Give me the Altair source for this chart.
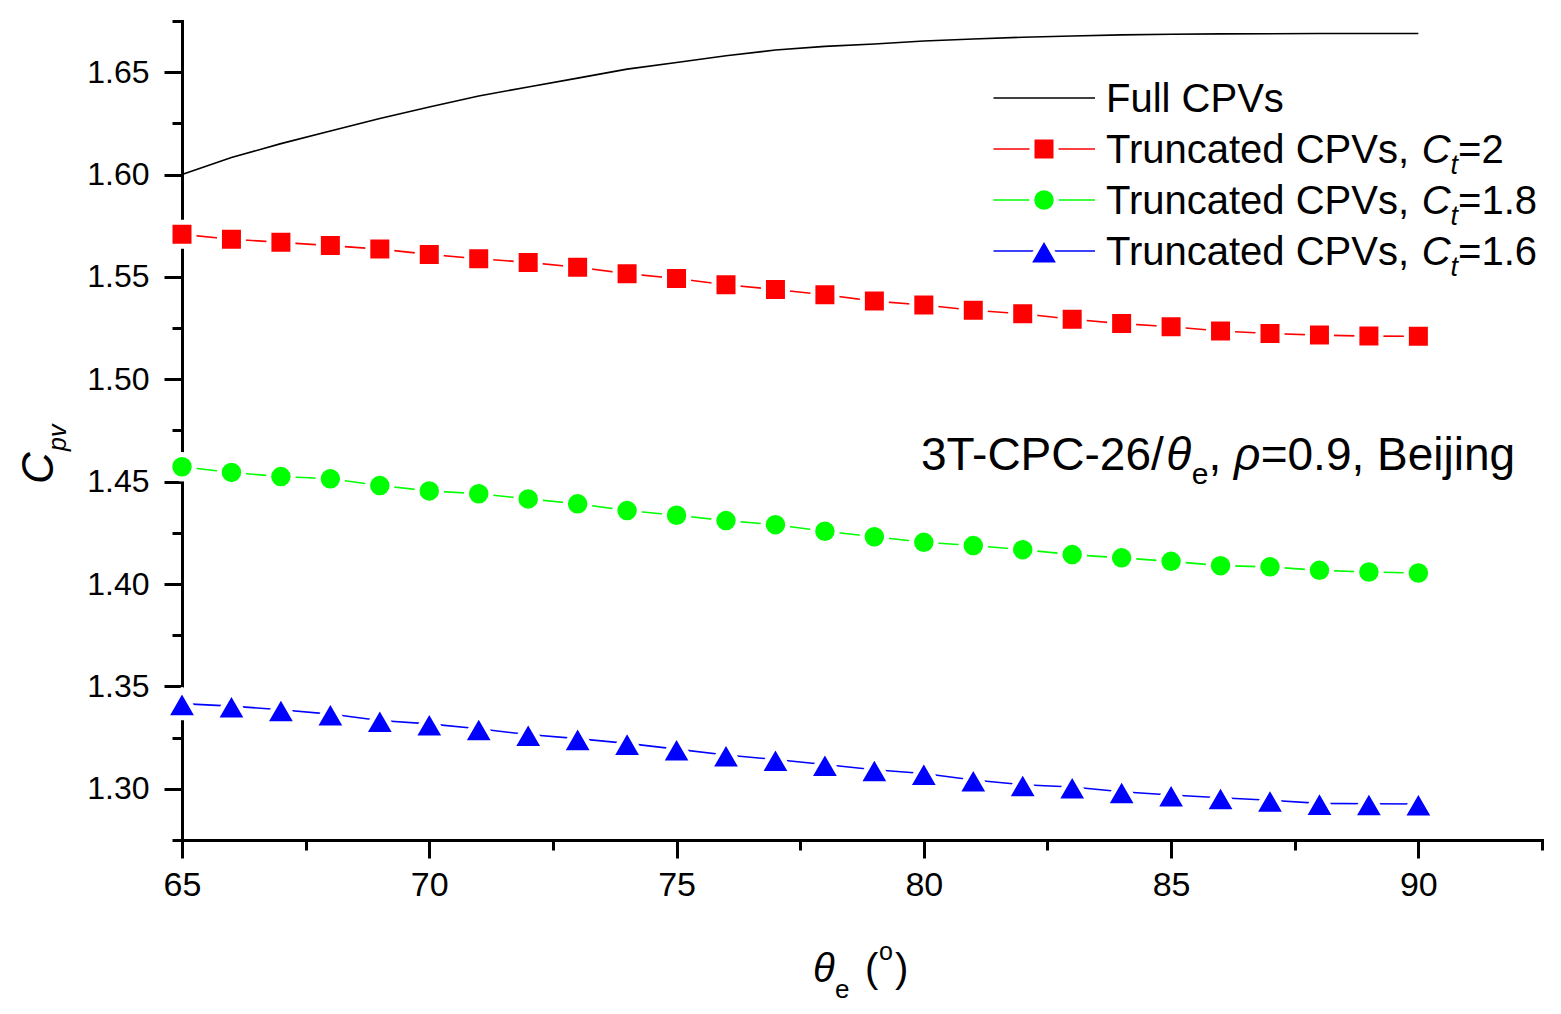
import altair as alt
import pandas as pd

# ---------------- data ----------------
theta_e = [65, 66, 67, 68, 69, 70, 71, 72, 73, 74, 75, 76, 77,
           78, 79, 80, 81, 82, 83, 84, 85, 86, 87, 88, 89, 90]
full_cpv = [1.6000, 1.6083, 1.6151, 1.6213, 1.6274, 1.6330, 1.6384, 1.6428, 1.6471,
            1.6515, 1.6547, 1.6580, 1.6608, 1.6626, 1.6638, 1.6652, 1.6662, 1.6671,
            1.6677, 1.6682, 1.6685, 1.6687, 1.6688, 1.6689, 1.6689, 1.6689]
trunc_ct2 = [1.5708, 1.5684, 1.5669, 1.5653, 1.5636, 1.5610, 1.5589, 1.5571, 1.5547,
             1.5516, 1.5492, 1.5462, 1.5439, 1.5413, 1.5382, 1.5363, 1.5337, 1.5320,
             1.5293, 1.5272, 1.5257, 1.5236, 1.5224, 1.5216, 1.5211, 1.5210]
trunc_ct18 = [1.4573, 1.4545, 1.4525, 1.4514, 1.4481, 1.4455, 1.4441, 1.4416, 1.4392,
              1.4359, 1.4336, 1.4310, 1.4290, 1.4258, 1.4231, 1.4204, 1.4188, 1.4168,
              1.4144, 1.4128, 1.4111, 1.4090, 1.4084, 1.4067, 1.4059, 1.4054]
trunc_ct16 = [1.3416, 1.3404, 1.3386, 1.3365, 1.3334, 1.3317, 1.3293, 1.3265, 1.3245,
              1.3222, 1.3194, 1.3165, 1.3143, 1.3119, 1.3093, 1.3075, 1.3043, 1.3020,
              1.3009, 1.2986, 1.2970, 1.2956, 1.2944, 1.2929, 1.2927, 1.2926]

legend_first = "Full CPVs"
legend_prefix = "Truncated CPVs, "
ct_values = ["2", "1.8", "1.6"]
annotation_parts = ["3T-CPC-26/", "\u03b8", "e", ", ", "\u03c1", "=0.9, Beijing"]

x_ticks = [65, 67.5, 70, 72.5, 75, 77.5, 80, 82.5, 85, 87.5, 90, 92.5]
y_ticks = [1.275, 1.3, 1.325, 1.35, 1.375, 1.4, 1.425, 1.45, 1.475, 1.5,
           1.525, 1.55, 1.575, 1.6, 1.625, 1.65, 1.675]

# ---------------- layout helpers ----------------
FONT = "Liberation Sans"
OX, OY = 182, 21          # absolute page position of the plot origin
W, H = 1360, 819

AW = {' ': 278, ',': 278, '.': 278, '-': 333, '/': 278, '=': 584, '(': 333, ')': 333,
      'B': 667, 'C': 722, 'P': 667, 'T': 611, 'V': 667, 'F': 611,
      'a': 556, 'c': 500, 'd': 556, 'e': 556, 'g': 556, 'i': 222, 'j': 222, 'l': 222,
      'n': 556, 'o': 556, 'p': 556, 'r': 333, 's': 500, 't': 278, 'u': 556, 'v': 500,
      '\u03b8': 556, '\u03c1': 577}
for d in "0123456789":
    AW[d] = 556


def tw(s, size):
    return sum(AW.get(c, 556) for c in s) * size / 1000.0


one = pd.DataFrame({"k": [0]})


def txt(s, x, y, size, italic=False, angle=0):
    return alt.Chart(one).mark_text(
        text=s, font=FONT, fontSize=size, fontStyle="italic" if italic else "normal",
        align="left", baseline="alphabetic", angle=angle, color="black"
    ).encode(x=alt.value(x - OX), y=alt.value(y - OY))


# ---------------- scales / axes ----------------
X = alt.X("theta:Q",
          scale=alt.Scale(domain=[65, 92.5], nice=False, zero=False),
          axis=alt.Axis(values=x_ticks, title=None, grid=False,
                        labelExpr="datum.value % 5 === 0 ? format(datum.value, 'd') : ''",
                        tickSize={"condition": {"test": "datum.value % 5 === 0", "value": 18}, "value": 10},
                        labelFontSize=34, labelPadding=10, labelFlush=False,
                        labelOverlap=False, labelBound=False))
Y = alt.Y("cpv:Q",
          scale=alt.Scale(domain=[1.275, 1.675], nice=False, zero=False),
          axis=alt.Axis(values=y_ticks, title=None, grid=False,
                        labelExpr="round(datum.value*1000) % 50 === 0 ? format(datum.value, '.2f') : ''",
                        tickSize={"condition": {"test": "round(datum.value*1000) % 50 === 0", "value": 18}, "value": 10},
                        labelFontSize=32, labelPadding=15, labelFlush=False,
                        labelOverlap=False, labelBound=False))


def frame(vals):
    return pd.DataFrame({"theta": theta_e, "cpv": vals})


RED, GREEN, BLUE = "#ff0000", "#00ff00", "#0000ff"
HALO = 5
specs = [
    (trunc_ct2, RED, "square", 576),
    (trunc_ct18, GREEN, "circle", 600),
    (trunc_ct16, BLUE, "triangle-up", 1050),
]

layers = [alt.Chart(frame(full_cpv)).mark_line(color="black", strokeWidth=1.6).encode(x=X, y=Y)]
for vals, col, shp, sz in specs:
    layers.append(alt.Chart(frame(vals)).mark_line(color=col, strokeWidth=1.6).encode(x=X, y=Y))
for vals, col, shp, sz in specs:
    layers.append(alt.Chart(frame(vals)).mark_point(
        shape=shp, size=sz, filled=True, fill=col, stroke="white", strokeWidth=HALO,
        strokeJoin="round", opacity=1, fillOpacity=1, strokeOpacity=1
    ).encode(x=X, y=Y))

# ---------------- legend (drawn by hand) ----------------
row_y = [98, 149, 200, 251]
LX1, LX2, LM = 993.5, 1095, 1044
LT = 1106
LF, LSUB = 40, 27
layers.append(alt.Chart(one).mark_rule(color="black", strokeWidth=1.6).encode(
    x=alt.value(LX1 - OX), x2=alt.value(LX2 - OX), y=alt.value(row_y[0] - OY)))
layers.append(txt(legend_first, LT, row_y[0] + 14, LF))
for i, (vals, col, shp, sz) in enumerate(specs):
    yc = row_y[i + 1]
    layers.append(alt.Chart(one).mark_rule(color=col, strokeWidth=1.6).encode(
        x=alt.value(LX1 - OX), x2=alt.value(LX2 - OX), y=alt.value(yc - OY)))
    layers.append(alt.Chart(one).mark_point(
        shape=shp, size=sz, filled=True, fill=col, stroke="white", strokeWidth=HALO,
        strokeJoin="round", opacity=1, fillOpacity=1, strokeOpacity=1
    ).encode(x=alt.value(LM - OX), y=alt.value(yc - OY)))
    xa = LT
    layers.append(txt(legend_prefix, xa, yc + 14, LF))
    xa += tw(legend_prefix, LF)
    layers.append(txt("C", xa, yc + 14, LF, italic=True))
    xa += tw("C", LF)
    layers.append(txt("t", xa, yc + 24.7, LSUB, italic=True))
    xa += tw("t", LSUB)
    layers.append(txt("=" + ct_values[i], xa, yc + 14, LF))

# ---------------- annotation ----------------
AF, ASUB = 46, 30
sizes = [AF, AF, ASUB, AF, AF, AF]
italics = [False, True, False, False, True, False]
dys = [0, 0, 14, 0, 0, 0]
total = sum(tw(p, s) for p, s in zip(annotation_parts, sizes))
xa = 1218 - total / 2
for p, s, it, dy in zip(annotation_parts, sizes, italics, dys):
    layers.append(txt(p, xa, 470 + dy, s, italic=it))
    xa += tw(p, s)

# ---------------- axis titles ----------------
layers.append(txt("\u03b8", 813, 982, 40, italic=True))
layers.append(txt("e", 835, 998, 26))
layers.append(txt("(", 865, 982, 40))
layers.append(txt("o", 879, 960, 25))
layers.append(txt(")", 895, 982, 40))

layers.append(txt("C", 53, 484, 44, italic=True, angle=270))
layers.append(txt("pv", 66, 451, 25, italic=True, angle=270))

chart = alt.layer(*layers).properties(
    width=W, height=H,
    autosize=alt.AutoSizeParams(type="none"),
    padding={"left": OX - 8, "top": OY - 8, "right": 1561 - 16 - (OX - 8) - W, "bottom": 1014 - 16 - (OY - 8) - H},
).configure_view(stroke=None).configure_axis(
    domainColor="black", domainWidth=3, domainCap="square",
    tickColor="black", tickWidth=3,
    labelColor="black", labelFont=FONT, grid=False,
)

chart.save("out.html", embed_options={"renderer": "svg", "actions": False})
